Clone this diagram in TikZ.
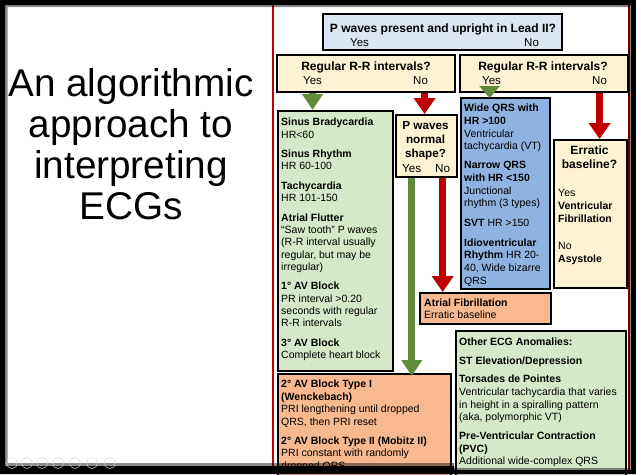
\documentclass[tikz,border=0pt]{standalone}
\usepackage{fontspec}
\setmainfont{Liberation Sans}
\usetikzlibrary{arrows.meta,positioning}

\definecolor{qblue}{HTML}{DCE6F2}
\definecolor{qcream}{HTML}{FEF2D2}
\definecolor{rgreen}{HTML}{D5E8C8}
\definecolor{rorange}{HTML}{F8B890}
\definecolor{rblue}{HTML}{8FB3E0}
\definecolor{agreen}{HTML}{5E8C3A}
\definecolor{ared}{HTML}{C00000}

\begin{document}
\begin{tikzpicture}[x=1pt,y=-1pt,
  box/.style={draw=black,line width=1.8pt,anchor=north west,inner sep=0pt},
  body/.style={anchor=north west,inner sep=0pt,align=left,font=\fontsize{10.5}{12.3}\selectfont},
  quest/.style={anchor=base,inner sep=0pt,font=\fontsize{12}{14}\selectfont\bfseries},
  ans/.style={anchor=base west,inner sep=0pt,font=\fontsize{11.5}{13}\selectfont},
  garrow/.style={draw=agreen,line width=7pt,-{Triangle[width=20pt,length=16pt]}},
  rarrow/.style={draw=ared,line width=7pt,-{Triangle[width=21pt,length=16pt]}}]
\useasboundingbox (0,0) rectangle (636,474);
\fill[white] (0,0) rectangle (636,474);

% slide title
\node[font=\fontsize{38.7}{41}\selectfont,align=center,anchor=north,inner sep=0pt] (title) at (131,68)
  {An algorithmic\\approach to\\interpreting\\ECGs};

% borders of the flow chart
\draw[ared,line width=2pt] (273,0) -- (273,474);
\draw[ared!70!black,line width=2.5pt] (629,0) -- (629,474);

% questions
\node[box,fill=qblue,minimum width=239pt,minimum height=36pt] (pwaves) at (322,13) {};
\node[quest] (pwavesq) at (443,32) {P waves present and upright in Lead II?};
\node[ans] (yesTop) at (350,46) {Yes};
\node[ans] (noTop) at (524,46) {No};

\node[box,fill=qcream,minimum width=178pt,minimum height=37pt] (rrleft) at (276,54) {};
\node[quest] (rrleftq) at (366,70) {Regular R-R intervals?};
\node[ans] (yesLeft) at (303,84) {Yes};
\node[ans] (noLeft) at (413,84) {No};
\coordinate (noLeftx) at ([xshift=4pt]noLeft.base);

\node[box,fill=qcream,minimum width=168pt,minimum height=37pt] (rrright) at (459,54) {};
\node[quest] (rrrightq) at (543,70) {Regular R-R intervals?};
\node[ans] (yesRight) at (482,84) {Yes};
\node[ans] (noRight) at (592,84) {No};
\coordinate (yesRightx) at ([xshift=-2pt,yshift=-2pt]yesRight.base);

\node[box,fill=qcream,minimum width=61pt,minimum height=62pt] (pshape) at (395,114) {};
\node[anchor=north,inner sep=0pt,align=center,font=\fontsize{11.7}{14}\selectfont\bfseries] (pshapeq) at (425.5,121)
  {P waves\\normal\\shape?};
\node[ans,font=\fontsize{11.7}{13}\selectfont] (yesShape) at (402,172) {Yes};
\node[ans,font=\fontsize{11.7}{13}\selectfont] (noShape) at (435,172) {No};

\node[box,fill=qcream,minimum width=73pt,minimum height=148pt] (erratic) at (553,139) {};
\node[anchor=north,inner sep=0pt,align=center,font=\fontsize{12}{14}\selectfont\bfseries] (erraticq) at (589.5,146)
  {Erratic\\baseline?};
\node[body,font=\fontsize{10.5}{13}\selectfont] (erratictxt) at (558,189)
  {Yes\\\textbf{Ventricular}\\\textbf{Fibrillation}\\[14pt]No\\\textbf{Asystole}};

% rhythms
\node[box,fill=rgreen,minimum width=115pt,minimum height=260pt] (sinus) at (277,110) {};
\node[body] (sinustxt) at (281,118)
  {\textbf{Sinus Bradycardia}\\HR<60\\[7.2pt]
   \textbf{Sinus Rhythm}\\HR 60-100\\[7.2pt]
   \textbf{Tachycardia}\\HR 101-150\\[7.2pt]
   \textbf{Atrial Flutter}\\“Saw tooth” P waves\\(R-R interval usually\\regular, but may be\\irregular)\\[7.2pt]
   \textbf{1° AV Block}\\PR interval >0.20\\seconds with regular\\R-R intervals\\[7.2pt]
   \textbf{3° AV Block}\\Complete heart block};

\node[box,fill=rblue,minimum width=89pt,minimum height=191pt] (ventr) at (460,97) {};
\node[body,font=\fontsize{10.5}{12.7}\selectfont] (ventrtxt) at (464,104)
  {\textbf{Wide QRS with}\\\textbf{HR >100}\\Ventricular\\tachycardia (VT)\\[6pt]
   \textbf{Narrow QRS}\\\textbf{with HR <150}\\Junctional\\rhythm (3 types)\\[7pt]
   \textbf{SVT} HR >150\\[7pt]
   \textbf{Idioventricular}\\\textbf{Rhythm} HR 20-\\40, Wide bizarre\\QRS};

\node[box,fill=rorange,minimum width=131pt,minimum height=31pt] (afib) at (419,292) {};
\node[body] (afibtxt) at (424,299) {\textbf{Atrial Fibrillation}\\[-1pt]Erratic baseline};

\node[box,fill=rorange,minimum width=173pt,minimum height=110pt] (avblock) at (277,373) {};
\node[body,font=\fontsize{10.5}{12.5}\selectfont] (avblocktxt) at (281,380)
  {\textbf{2° AV Block Type I}\\\textbf{(Wenckebach)}\\PRI lengthening until dropped\\QRS, then PRI reset\\[6.5pt]
   \textbf{2° AV Block Type II (Mobitz II)}\\PRI constant with randomly\\dropped QRS};

\node[box,fill=rgreen,minimum width=170pt,minimum height=150pt] (other) at (455,330) {};
\node[body,font=\fontsize{10.5}{12.7}\selectfont] (othertxt) at (459,338)
  {\textbf{Other ECG Anomalies:}\\[5.5pt]
   \textbf{ST Elevation/Depression}\\[6pt]
   \textbf{Torsades de Pointes}\\Ventricular tachycardia that varies\\in height in a spiralling pattern\\(aka, polymorphic VT)\\[6pt]
   \textbf{Pre-Ventricular Contraction}\\\textbf{(PVC)}\\Additional wide-complex QRS};

% branches
\draw[garrow] (yesLeft |- rrleft.south) -- (yesLeft |- sinus.north);
\draw[rarrow] (noLeftx |- rrleft.south) -- (noLeftx |- pshape.north);
\draw[garrow,-{Triangle[width=20pt,length=12pt]}] (yesRightx) -- ([yshift=-1pt]yesRightx |- ventr.north);
\draw[rarrow] (noRight |- rrright.south) -- (noRight |- erratic.north);
\draw[garrow] (yesShape |- pshape.south) -- ([yshift=-3pt]yesShape |- avblock.north);
\draw[rarrow] (noShape |- pshape.south) -- (noShape |- afib.north);

% screen frame
\fill[black,even odd rule] (0,0) rectangle (636,474)
  (5,5) -- (631,5) -- (631,470) -- (454,470) -- (454,466) -- (5,466) -- cycle;
\fill[black,opacity=0.45,even odd rule] (5,5) -- (631,5) -- (631,470) -- (454,470) -- (454,466) -- (5,466) -- cycle
  (7.5,7) -- (628.5,7) -- (628.5,468) -- (454,468) -- (454,463) -- (7.5,463) -- cycle;
\foreach \cx in {12,27,42,58,75,92,110}
  \draw[gray!30,line width=0.5pt] (\cx,463) circle (5.5);
\end{tikzpicture}
\end{document}
